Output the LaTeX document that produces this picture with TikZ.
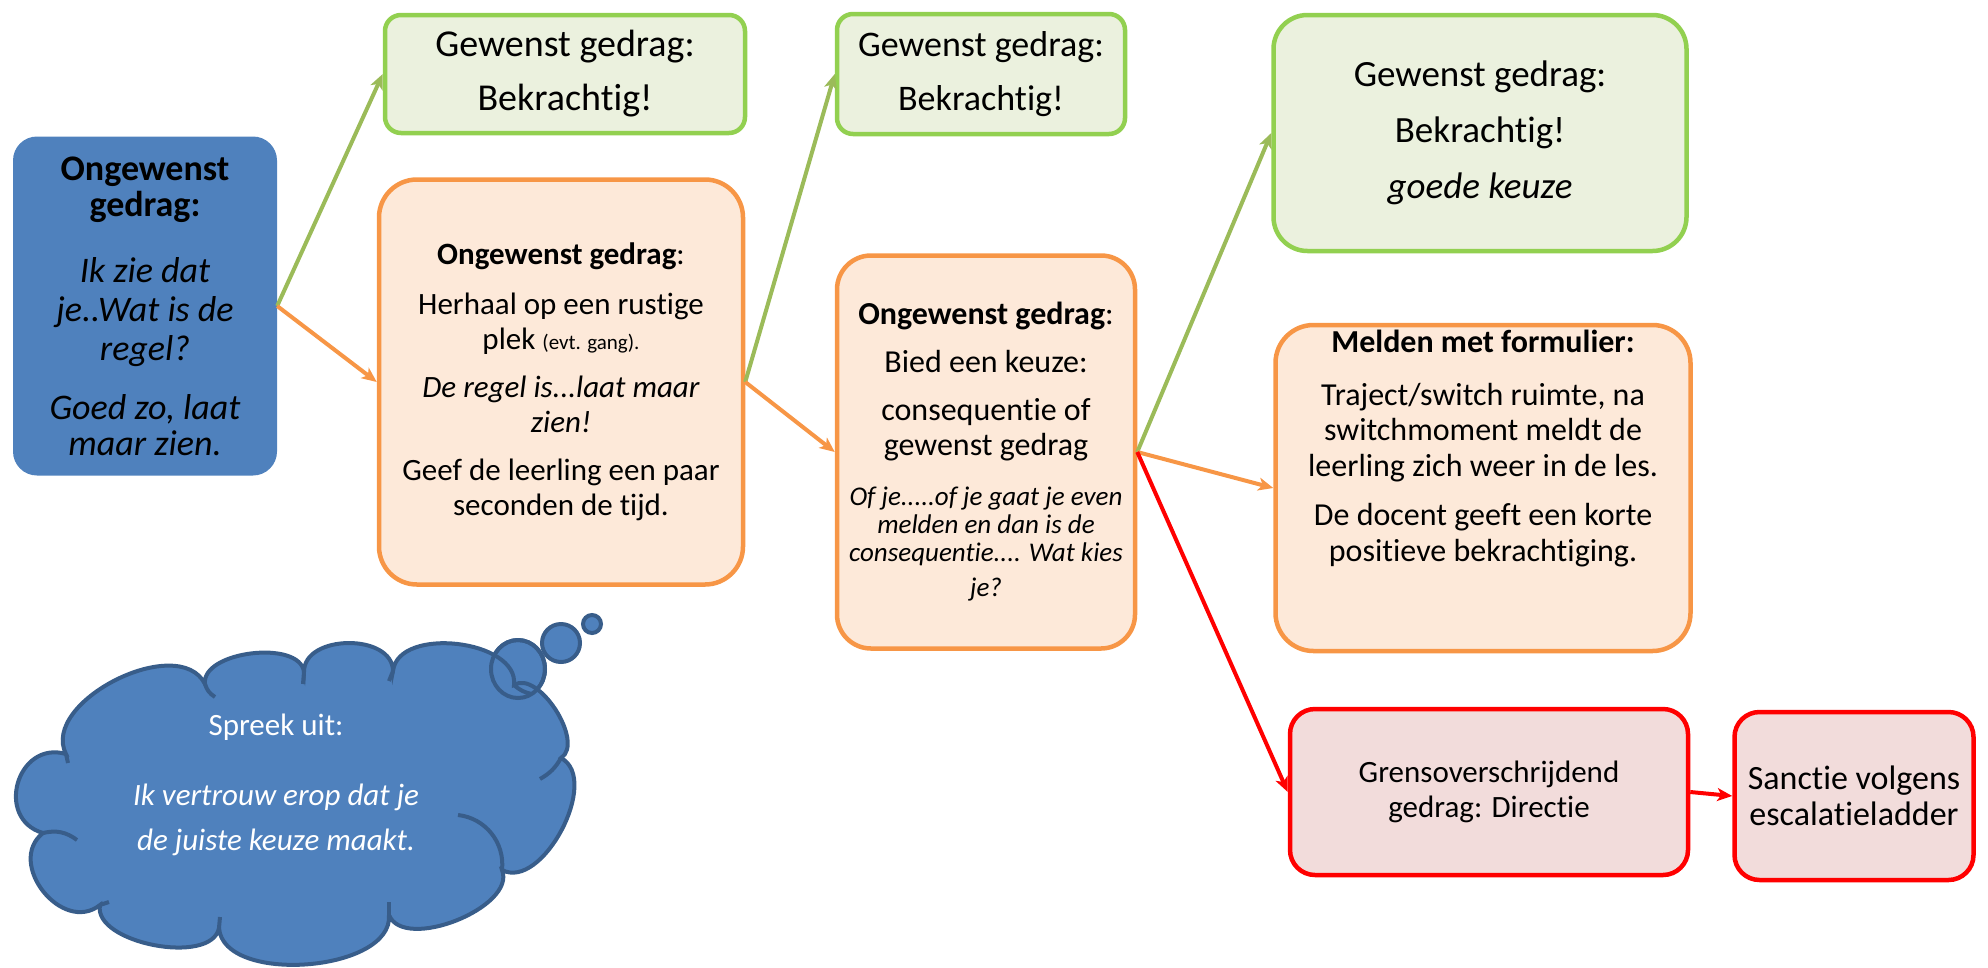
\documentclass[tikz,border=0pt]{standalone}
\usepackage{fontspec}
\setmainfont{Carlito}[Ligatures=NoCommon]
\usetikzlibrary{arrows.meta}

\definecolor{blauw}{HTML}{4F81BD}
\definecolor{blauwrand}{HTML}{385D8A}
\definecolor{groenvul}{HTML}{EBF1DE}
\definecolor{groenrand}{HTML}{92D050}
\definecolor{groenpijl}{HTML}{9BBB59}
\definecolor{oranjevul}{HTML}{FDE9D9}
\definecolor{oranje}{HTML}{F79646}
\definecolor{roodvul}{HTML}{F2DCDB}

\tikzset{
  vak/.style={draw, line width=4.5pt, align=flush center, inner sep=0pt,
    font=\fontsize{32}{35}\selectfont},
  groenvak/.style={vak, draw=groenrand, fill=groenvul, rounded corners=16pt,
    font=\fontsize{37}{44}\selectfont},
  oranjevak/.style={vak, draw=oranje, fill=oranjevul, rounded corners=38pt},
  roodvak/.style={vak, draw=red, fill=roodvul, rounded corners=25pt,
    font=\fontsize{31}{35}\selectfont},
  pijl/.style={line width=4pt, -{Stealth[length=15pt, width=13pt, inset=4pt]}},
  wolkrand/.style={draw=blauwrand, line width=4pt},
}

\begin{document}
\begin{tikzpicture}[x=1pt, y=-1pt]
\useasboundingbox (0,0) rectangle (1988,967);

% beginvak
\node[fill=blauw, rounded corners=24pt, minimum width=264pt, minimum height=339pt,
  text width=256pt, align=flush center, inner sep=0pt,
  font=\fontsize{36}{36}\selectfont] (ongewenst) at (145,306)
  {\bfseries Ongewenst\\gedrag:\\[27pt]
   \mdseries\itshape\fontsize{36}{39}\selectfont Ik zie dat\\je..Wat is de\\regel?\\[20pt]
   Goed zo, laat\\maar zien.};

% eerste stap
\node[groenvak, minimum width=360pt, minimum height=118pt, text width=350pt,
  font=\fontsize{38}{44}\selectfont] (gewenstA) at (565,74)
  {Gewenst gedrag:\\[10pt]Bekrachtig!};
\node[oranjevak, minimum width=364pt, minimum height=405pt, text width=356pt,
  font=\fontsize{31}{35}\selectfont] (herhaal) at (561,382)
  {\textbf{Ongewenst gedrag}:\\[15pt]
   Herhaal op een rustige\\plek {\fontsize{21}{35}\selectfont(evt. gang).}\\[13pt]
   {\itshape De regel is...laat maar\\zien!}\\[13pt]
   Geef de leerling een paar\\seconden de tijd.};

% tweede stap
\node[groenvak, minimum width=288pt, minimum height=120pt, text width=280pt,
  font=\fontsize{36}{44}\selectfont] (gewenstB) at (981,74)
  {Gewenst gedrag:\\[10pt]Bekrachtig!};
\node[oranjevak, minimum width=298pt, minimum height=393pt, text width=294pt,
  rounded corners=34pt] (keuze) at (986,452)
  {\textbf{Ongewenst gedrag}:\\[13pt]
   Bied een keuze:\\[13pt]
   consequentie of\\gewenst gedrag\\[22pt]
   {\itshape\fontsize{27}{28}\selectfont Of je.....of je gaat je even\\melden en dan is de\\consequentie.... Wat kies\\je?}};

% derde stap
\node[groenvak, minimum width=413pt, minimum height=236pt, text width=400pt,
  rounded corners=34pt] (gewenstC) at (1480,133)
  {Gewenst gedrag:\\[12pt]Bekrachtig!\\[12pt]{\itshape goede keuze}};
\node[oranjevak, minimum width=415pt, minimum height=326pt] (melden) at (1483,488) {};
\node[text width=405pt, align=flush center, inner sep=0pt, anchor=north,
  font=\fontsize{32}{35.5}\selectfont] (meldentekst) at (1483,330)
  {\textbf{Melden met formulier:}\\[17pt]
   Traject/switch ruimte, na\\switchmoment meldt de\\leerling zich weer in de les.\\[14pt]
   De docent geeft een korte\\positieve bekrachtiging.};

% vierde stap
\node[roodvak, minimum width=398pt, minimum height=166pt, text width=390pt] (grens) at (1489,792)
  {Grensoverschrijdend\\gedrag: Directie};
\node[roodvak, minimum width=239pt, minimum height=168pt, text width=235pt,
  font=\fontsize{34}{36}\selectfont] (sanctie) at (1854,796)
  {Sanctie volgens\\escalatieladder};

% pijlen
\draw[pijl, groenpijl] (ongewenst.east) -- (gewenstA.west);
\draw[pijl, oranje] (ongewenst.east) -- (herhaal.west);
\draw[pijl, groenpijl] (herhaal.east) -- (gewenstB.west);
\draw[pijl, oranje] (herhaal.east) -- (keuze.west);
\draw[pijl, groenpijl] (keuze.east) -- (gewenstC.west);
\draw[pijl, oranje] (keuze.east) -- (melden.west);
\draw[pijl, red] (keuze.east) -- (grens.west);
\draw[pijl, red] (grens.east) -- (sanctie.west);

% wolk met gedachtebelletjes
\filldraw[fill=blauw, wolkrand] (518,669) ellipse [x radius=27pt, y radius=29pt];
\filldraw[fill=blauw, wolkrand]
  (66,754) to[bend left=90, looseness=0.96] (205,684)
  to[bend left=90, looseness=0.85] (304,672)
  to[bend left=90, looseness=1.09] (393,671)
  to[bend left=90, looseness=0.96] (514,685)
  to[bend left=90, looseness=0.85] (561,758)
  to[bend left=90, looseness=0.92] (502,870)
  to[bend left=90, looseness=0.84] (389,915)
  to[bend left=90, looseness=0.86] (219,928)
  to[bend left=90, looseness=0.82] (100,905)
  to[bend left=90, looseness=1.34] (43,833)
  to[bend left=90, looseness=1.58] (66,754) -- cycle;
% binnenboogjes
\draw[wolkrand] (205,684) to[bend right=20] (215,697);
\draw[wolkrand] (304,672) -- (303,684);
\draw[wolkrand] (393,671) -- (389,681);
\draw[wolkrand] (514,685) to[bend right=15] (532,694);
\draw[wolkrand] (561,758) to[bend left=15] (540,779);
\draw[wolkrand] (502,870) to[bend right=45] (458,815);
\draw[wolkrand] (389,915) -- (389,902);
\draw[wolkrand] (219,928) -- (220,917);
\draw[wolkrand] (100,905) -- (109,902);
\draw[wolkrand] (43,833) to[bend left=25] (77,840);
\draw[wolkrand] (66,754) -- (68,763);
\draw[wolkrand] (518,669) ellipse [x radius=27pt, y radius=29pt];
\filldraw[fill=blauw, wolkrand] (561,643) circle [radius=19pt];
\filldraw[fill=blauw, wolkrand] (592,624) circle [radius=9pt];

\node[text=white, text width=420pt, align=flush center, inner sep=0pt,
  font=\fontsize{31}{45}\selectfont] (spreek) at (276,785)
  {Spreek uit:\\[25pt]{\itshape Ik vertrouw erop dat je\\de juiste keuze maakt.}};

\end{tikzpicture}
\end{document}
